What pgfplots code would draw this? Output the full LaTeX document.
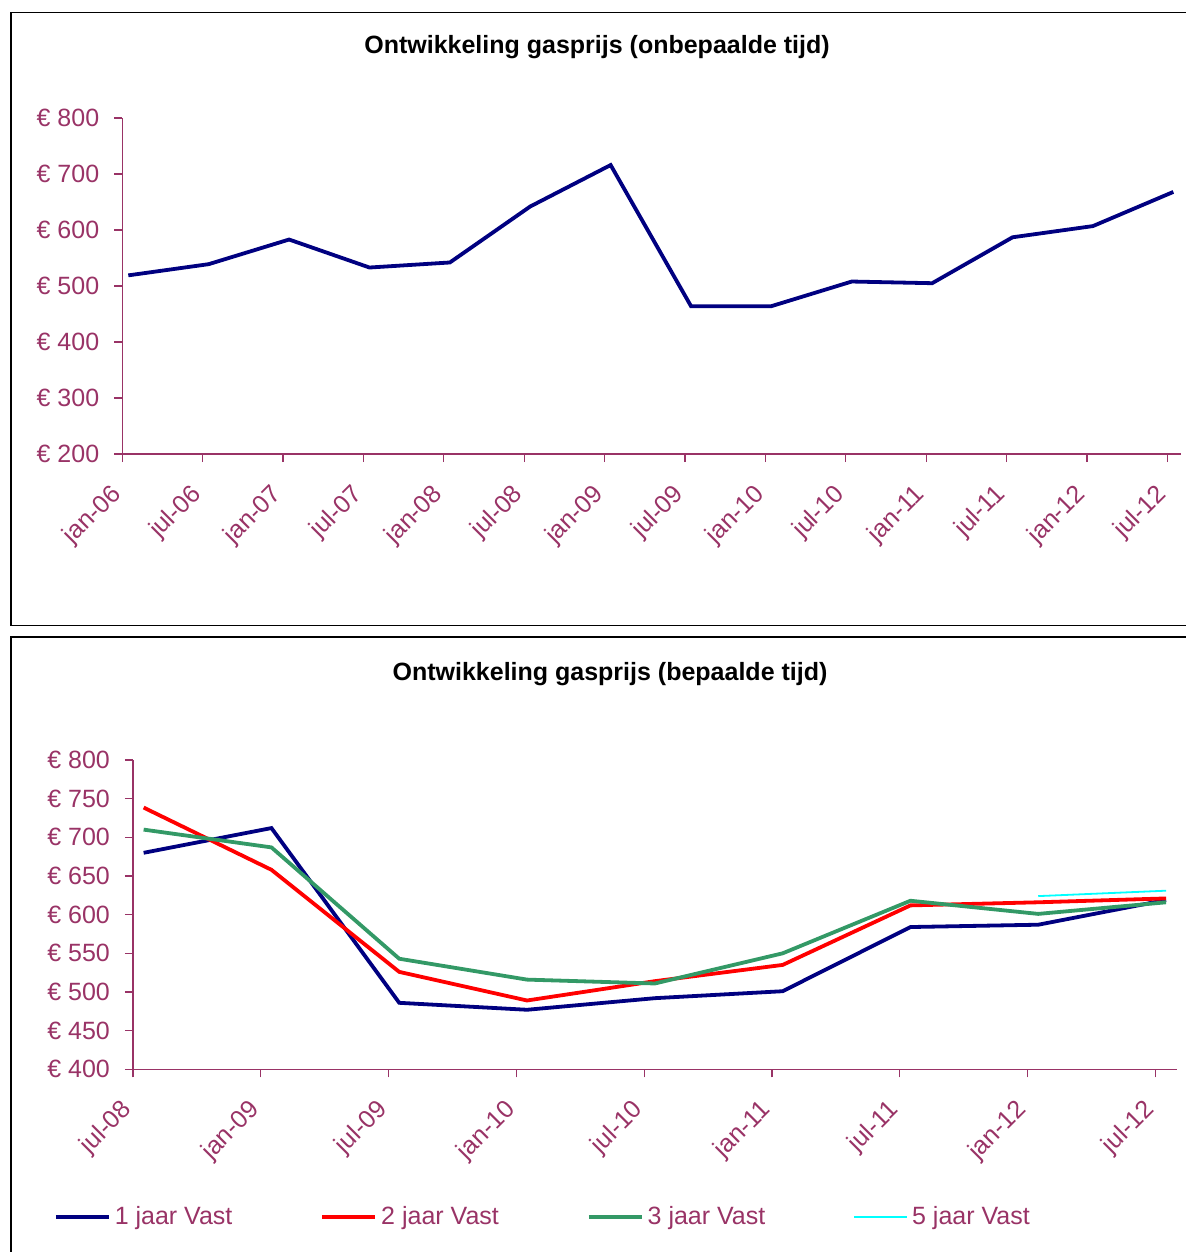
\documentclass[border=0pt]{standalone}
\usepackage{pgfplots}
\pgfplotsset{compat=1.18}
\usepackage{fontspec}
\setmainfont{Liberation Sans}
\definecolor{plum}{HTML}{993366}
\definecolor{navyc}{HTML}{000080}
\definecolor{sgreen}{HTML}{339966}
\definecolor{cyanc}{HTML}{00FFFF}
\begin{document}
\begin{tikzpicture}
\path[use as bounding box] (0,0) rectangle (593pt,-626pt);
\draw[line width=0.8pt] (600pt,-6.35pt) -- (5.35pt,-6.35pt) -- (5.35pt,-312.65pt) -- (600pt,-312.65pt);
\draw[line width=0.8pt] (600pt,-318.35pt) -- (5.35pt,-318.35pt) -- (5.35pt,-640pt);
\pgfplotsset{
 every axis/.append style={
  scale only axis, axis lines=left, axis line style={plum, -, line width=0.6pt},
  tick style={plum, line width=0.6pt}, tick align=outside, major tick length=4pt,
  minor tick num=0,
  font=\fontsize{12.5}{15}\selectfont, ticklabel style={text=plum},
  xticklabel style={yshift=-12pt, rotate=45, anchor=east},
  yticklabel style={xshift=-4pt},
  clip=false,
 }
}
\node[font=\bfseries\fontsize{12.5}{15}\selectfont] at (298.5pt,-23.5pt) {Ontwikkeling gasprijs (onbepaalde tijd)};
\begin{axis}[at={(61.15pt,-227pt)}, anchor=south west, width=529.2pt, height=168pt,
 xmin=0, xmax=79, ymin=200, ymax=800, xtick={0,6,...,78},
 xticklabels={jan-06,jul-06,jan-07,jul-07,jan-08,jul-08,jan-09,jul-09,jan-10,jul-10,jan-11,jul-11,jan-12,jul-12},
 ytick={200,300,...,800}, yticklabels={€ 200,€ 300,€ 400,€ 500,€ 600,€ 700,€ 800}]
\addplot[navyc, line width=1.9pt] coordinates {
(0.45,519) (6.45,539) (12.45,583) (18.45,533) (24.45,542) (30.45,642) (36.45,716)
(42.45,464) (48.45,464) (54.45,508) (60.45,505) (66.45,587) (72.45,607) (78.45,668)};
\end{axis}
\node[font=\bfseries\fontsize{12.5}{15}\selectfont] at (305pt,-337pt) {Ontwikkeling gasprijs (bepaalde tijd)};
\begin{axis}[at={(66.5pt,-534.65pt)}, anchor=south west, width=521.85pt, height=154.65pt,
 xmin=0, xmax=49, ymin=400, ymax=800, xtick={0,6,...,48},
 xticklabels={jul-08,jan-09,jul-09,jan-10,jul-10,jan-11,jul-11,jan-12,jul-12},
 ytick={400,450,...,800}, yticklabels={€ 400,€ 450,€ 500,€ 550,€ 600,€ 650,€ 700,€ 750,€ 800},
 legend columns=4,
 legend style={at={(-0.0757,-0.4775)}, anchor=west, draw=none, inner sep=0pt, outer sep=0pt,
   text=plum, font=\fontsize{12.5}{15}\selectfont,
   /tikz/every even column/.append style={column sep=42pt}},
 legend cell align=left,
 legend image code/.code={\draw[#1] (0pt,0pt) -- (26.5pt,0pt);}]
\addplot[navyc, line width=1.9pt] coordinates {
(0.5,680) (6.5,712) (12.5,486) (18.5,477) (24.5,492) (30.5,501) (36.5,584) (42.5,587) (48.5,619)};
\addlegendentry{1 jaar Vast}
\addplot[red, line width=1.9pt] coordinates {
(0.5,738.5) (6.5,658) (12.5,526) (18.5,489) (24.5,514) (30.5,535) (36.5,612) (42.5,616) (48.5,621)};
\addlegendentry{2 jaar Vast}
\addplot[sgreen, line width=1.9pt] coordinates {
(0.5,710) (6.5,687) (12.5,543) (18.5,516) (24.5,511) (30.5,550) (36.5,618) (42.5,601) (48.5,616)};
\addlegendentry{3 jaar Vast}
\addplot[cyanc, line width=0.9pt] coordinates {(42.5,624) (48.5,631)};
\addlegendentry{5 jaar Vast}
\end{axis}
\end{tikzpicture}
\end{document}
